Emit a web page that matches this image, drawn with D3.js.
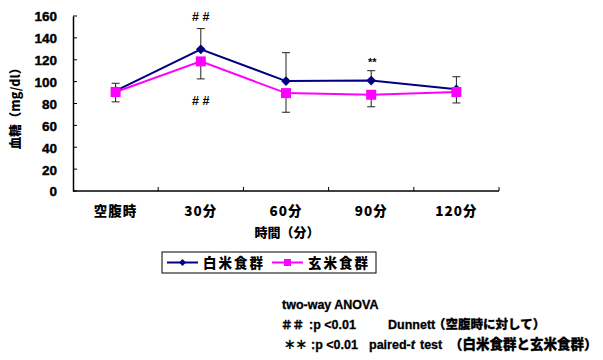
<!DOCTYPE html>
<html>
<head>
<meta charset="utf-8">
<script src="https://cdn.jsdelivr.net/npm/d3@7"></script>
<style>
  body { margin: 0; background: #fff; }
  text { font-family: "Liberation Sans", Arial, "Noto Sans CJK JP", sans-serif; font-weight: bold; fill: #000; }
  .jp { font-family: "Noto Sans CJK JP", "Liberation Sans", sans-serif; font-weight: 900; }
</style>
</head>
<body>
<div id="container"></div>
<script>
/* DATA */
const categories = ["空腹時", "30分", "60分", "90分", "120分"];
const whiteRice = [91.5, 129.5, 100.5, 101, 93];
const brownRice = [90.5, 118.5, 89.5, 88, 90.5];
const whiteSD = [7, 19, 26, 9, 11.5];   // drawn upward
const brownSD = [9, 16, 17.5, 11, 10];  // drawn downward
const yTicks = [0, 20, 40, 60, 80, 100, 120, 140, 160];
const seriesNames = ["白米食群", "玄米食群"];
// each note segment: [text, x, italic?, cjk font size]
const notes = [
  [["two-way ANOVA", 282]],
  [["＃＃", 281, false, 11.5], [":p <0.01", 309], ["Dunnett", 388], ["（空腹時に対して）", 433, false, 12.5]],
  [["＊＊", 284, false, 11.5], [":p <0.01", 311], ["paired-", 369], ["t", null, true], ["test", 420], ["（白米食群と玄米食群）", 449, false, 13.5]]
];

/* CONSTANTS */
const width = 603,
  height = 360,
  margin = { top: 16, right: 104, bottom: 169, left: 73 };

const svg = d3.select("#container").append("svg")
  .attr("width", width)
  .attr("height", height);

const xScale = d3.scaleBand()
  .domain(categories)
  .range([margin.left, width - margin.right]);

const yScale = d3.scaleLinear()
  .domain([0, 160])
  .range([height - margin.bottom, margin.top]);

const x0 = margin.left, x1 = width - margin.right;
const yBase = height - margin.bottom;

/* AXES */
const yAxis = d3.axisLeft(yScale).tickValues(yTicks).tickSize(0).tickPadding(16);
const gy = svg.append("g")
  .attr("transform", `translate(${x0},0)`)
  .call(yAxis);
gy.select(".domain").attr("stroke", "#000").attr("stroke-width", 1.5);
gy.selectAll("text")
  .attr("font-size", 13.5)
  .attr("dy", "0.36em")
  .attr("font-family", "'Liberation Sans', Arial, sans-serif")
  .attr("stroke", "#000").attr("stroke-width", 0.4);
// inward y ticks
svg.selectAll(".ytick")
  .data(yTicks)
  .join("line")
  .attr("class", "ytick")
  .attr("x1", x0).attr("x2", x0 + 4)
  .attr("y1", d => yScale(d)).attr("y2", d => yScale(d))
  .attr("stroke", "#000");

svg.append("line")
  .attr("x1", x0).attr("x2", x1)
  .attr("y1", yBase).attr("y2", yBase)
  .attr("stroke", "#000").attr("stroke-width", 1.5);

// category boundary ticks (inward)
const boundaries = categories.map(c => xScale(c)).concat([x1]);
svg.selectAll(".xtick")
  .data(boundaries.slice(1))
  .join("line")
  .attr("class", "xtick")
  .attr("x1", d => d).attr("x2", d => d)
  .attr("y1", yBase).attr("y2", yBase - 4)
  .attr("stroke", "#000");

svg.selectAll(".xlabel")
  .data(categories)
  .join("text")
  .attr("class", "xlabel jp")
  .attr("x", d => xScale(d) + xScale.bandwidth() / 2)
  .attr("y", yBase + 25)
  .attr("text-anchor", "middle")
  .attr("font-size", 13.5)
  .attr("letter-spacing", 1)
  .text(d => d);

svg.append("text")
  .attr("class", "jp")
  .attr("x", (x0 + x1) / 2 + 1)
  .attr("y", yBase + 46)
  .attr("text-anchor", "middle")
  .attr("font-size", 13)
  .text("時間（分）");

svg.append("text")
  .attr("class", "jp")
  .attr("transform", `translate(20,${yScale(80) + 2}) rotate(-90)`)
  .attr("text-anchor", "middle")
  .attr("font-size", 12.5)
  .text("血糖（mg/dl）");

/* SERIES */
const cx = c => xScale(c) + xScale.bandwidth() / 2;

function errorBars(vals, sds, dir) {
  const g = svg.append("g").attr("stroke", "#222").attr("stroke-width", 1);
  categories.forEach((c, i) => {
    const yv = yScale(vals[i] + dir * sds[i]);
    g.append("line").attr("x1", cx(c)).attr("x2", cx(c))
      .attr("y1", yScale(vals[i])).attr("y2", yv);
    g.append("line").attr("x1", cx(c) - 4).attr("x2", cx(c) + 4)
      .attr("y1", yv).attr("y2", yv);
  });
}

const line = d3.line()
  .x((d, i) => cx(categories[i]))
  .y(d => yScale(d));

errorBars(whiteRice, whiteSD, 1);
errorBars(brownRice, brownSD, -1);

svg.append("path")
  .datum(whiteRice)
  .attr("fill", "none").attr("stroke", "#000080").attr("stroke-width", 2)
  .attr("d", line);

svg.append("path")
  .datum(brownRice)
  .attr("fill", "none").attr("stroke", "#FF00FF").attr("stroke-width", 2)
  .attr("d", line);

const diamond = d3.symbol().type(d3.symbolDiamond2).size(60);
svg.selectAll(".wpt")
  .data(whiteRice)
  .join("path")
  .attr("class", "wpt")
  .attr("transform", (d, i) => `translate(${cx(categories[i])},${yScale(d)})`)
  .attr("d", diamond)
  .attr("fill", "#000080");

svg.selectAll(".bpt")
  .data(brownRice)
  .join("rect")
  .attr("class", "bpt")
  .attr("x", (d, i) => cx(categories[i]) - 5)
  .attr("y", d => yScale(d) - 5)
  .attr("width", 10).attr("height", 10)
  .attr("fill", "#FF00FF");

/* SIGNIFICANCE MARKS */
svg.append("text")
  .attr("x", cx("30分")).attr("y", yScale(whiteRice[1] + whiteSD[1]) - 8)
  .attr("text-anchor", "middle").attr("font-size", 12.5)
  .text("# #");
svg.append("text")
  .attr("x", cx("30分")).attr("y", yScale(brownRice[1] - brownSD[1]) + 26)
  .attr("text-anchor", "middle").attr("font-size", 12.5)
  .text("# #");
svg.append("text")
  .attr("x", cx("90分") + 1).attr("y", yScale(whiteRice[3] + whiteSD[3]) - 5)
  .attr("text-anchor", "middle").attr("font-size", 11).attr("font-weight", "normal")
  .text("**");

/* LEGEND */
const legend = svg.append("g").attr("transform", "translate(162,252)");
legend.append("rect")
  .attr("width", 214).attr("height", 21)
  .attr("fill", "#fff").attr("stroke", "#000").attr("stroke-width", 1);
const legendItems = [
  { name: seriesNames[0], color: "#000080", x: 5, shape: "diamond" },
  { name: seriesNames[1], color: "#FF00FF", x: 110, shape: "square" }
];
legendItems.forEach(it => {
  const g = legend.append("g").attr("transform", `translate(${it.x},10.5)`);
  g.append("line").attr("x1", 0).attr("x2", 31)
    .attr("stroke", it.color).attr("stroke-width", 2);
  if (it.shape === "diamond") {
    g.append("path").attr("transform", "translate(15.5,0)")
      .attr("d", d3.symbol().type(d3.symbolDiamond2).size(30)).attr("fill", it.color);
  } else {
    g.append("rect").attr("x", 12).attr("y", -3.5).attr("width", 7).attr("height", 7)
      .attr("fill", it.color);
  }
  g.append("text").attr("class", "jp")
    .attr("x", 36).attr("y", 5)
    .attr("font-size", 13.5).attr("letter-spacing", 2)
    .text(it.name);
});

/* NOTES */
const noteRows = svg.selectAll(".note")
  .data(notes)
  .join("text")
  .attr("class", "note")
  .attr("y", (d, i) => 309 + i * 20)
  .attr("font-size", 12.5)
  .attr("stroke", "#000").attr("stroke-width", 0.3)
  .style("white-space", "pre");

noteRows.selectAll("tspan")
  .data(d => d)
  .join("tspan")
  .attr("x", d => d[1] === null || d[1] === undefined ? null : d[1])
  .attr("font-style", d => d[2] ? "italic" : null)
  .attr("font-family", d => d[3] ? "'Noto Sans CJK JP', sans-serif" : null)
  .attr("font-weight", d => d[3] ? 900 : null)
  .attr("font-size", d => d[3] ? d[3] : null)
  .text(d => d[0]);
</script>
</body>
</html>
